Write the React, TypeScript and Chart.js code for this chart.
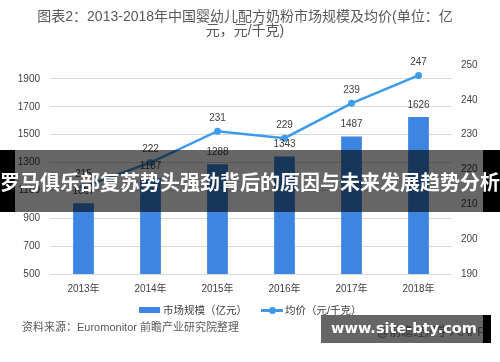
import React, { useEffect, useRef } from "react";
import { Chart, registerables } from "chart.js";

Chart.register(...registerables);

const years = ["2013年", "2014年", "2015年", "2016年", "2017年", "2018年"];
const marketSize = [1007, 1187, 1288, 1343, 1487, 1626];
const avgPrice = [215, 222, 231, 229, 239, 247];
const leftTicks = [500, 700, 900, 1100, 1300, 1500, 1700, 1900];
const rightTicks = [190, 200, 210, 220, 230, 240, 250];
const sizeLabel = "市场规模（亿元）";
const priceLabel = "均价（元/千克）";
const titleLine1 = "图表2：2013-2018年中国婴幼儿配方奶粉市场规模及均价(单位：亿";
const titleLine2 = "元，元/千克)";
const sourceText = "资料来源：Euromonitor 前瞻产业研究院整理";
const bannerText = "罗马俱乐部复苏势头强劲背后的原因与未来发展趋势分析";
const siteText = "www.site-bty.com";
const appText = "@前瞻经济学人APP";

const BAR_COLOR = "#3e85e2";
const LINE_COLOR = "#3c9bea";
const FONT = "'Liberation Sans', 'Noto Sans CJK SC', sans-serif";

const valueLabels = {
  id: "valueLabels",
  afterDatasetsDraw(chart: any) {
    const ctx = chart.ctx;
    ctx.save();
    ctx.font = `10px ${FONT}`;
    ctx.fillStyle = "#404040";
    ctx.textAlign = "center";
    ctx.textBaseline = "middle";
    chart.data.datasets.forEach((ds: any, i: number) => {
      const meta = chart.getDatasetMeta(i);
      const off = meta.type === "bar" ? 12 : 13;
      meta.data.forEach((el: any, j: number) => {
        ctx.fillText(String(ds.data[j]), el.x, el.y - off);
      });
    });
    ctx.restore();
  },
};

export default function App() {
  const ref = useRef<HTMLCanvasElement | null>(null);

  useEffect(() => {
    if (!ref.current) return;
    const tickFont = { size: 10, family: FONT };
    const plain = (v: any) => String(v);
    const chart = new Chart(ref.current, {
      type: "bar",
      data: {
        labels: years,
        datasets: [
          {
            type: "line",
            label: priceLabel,
            data: avgPrice,
            yAxisID: "y1",
            borderColor: LINE_COLOR,
            backgroundColor: LINE_COLOR,
            borderWidth: 2.5,
            pointRadius: 3.5,
            pointBorderWidth: 0,
            pointBackgroundColor: LINE_COLOR,
            tension: 0,
            order: 0,
          } as any,
          {
            type: "bar",
            label: sizeLabel,
            data: marketSize,
            yAxisID: "y",
            backgroundColor: BAR_COLOR,
            borderWidth: 0,
            barPercentage: 0.31,
            categoryPercentage: 1,
            order: 1,
          } as any,
        ],
      },
      options: {
        responsive: false,
        animation: false,
        layout: { padding: { top: 65, left: 0, right: 0, bottom: 0 } },
        plugins: { legend: { display: false }, tooltip: { enabled: false }, title: { display: false } },
        scales: {
          x: {
            grid: { display: false, drawTicks: false },
            border: { display: false },
            ticks: { color: "#404040", font: tickFont, padding: 9 },
            afterFit(s: any) {
              s.height = 88;
            },
          },
          y: {
            position: "left",
            min: 500,
            max: 2000,
            grid: { color: "#d9d9d9", drawTicks: false, lineWidth: 1 },
            border: { display: false },
            ticks: { color: "#404040", font: tickFont, padding: 10, callback: plain },
            afterBuildTicks(s: any) {
              s.ticks = leftTicks.map((v) => ({ value: v }));
            },
            afterFit(s: any) {
              s.width = 50;
            },
          },
          y1: {
            position: "right",
            min: 190,
            max: 250,
            grid: { display: false, drawTicks: false },
            border: { display: false },
            ticks: { color: "#404040", font: tickFont, padding: 9, callback: plain },
            afterBuildTicks(s: any) {
              s.ticks = rightTicks.map((v) => ({ value: v }));
            },
            afterFit(s: any) {
              s.width = 48;
            },
          },
        } as any,
      },
      plugins: [valueLabels],
    });
    return () => chart.destroy();
  }, []);

  const abs = (o: any): React.CSSProperties => ({ position: "absolute", ...o });

  return (
    <div
      style={{
        position: "fixed",
        left: 0,
        top: 0,
        width: 500,
        height: 362,
        background: "#ffffff",
        overflow: "hidden",
        fontFamily: FONT,
      }}
    >
      <canvas ref={ref} width={500} height={362} style={abs({ left: 0, top: 0, width: 500, height: 362 })} />
      <div
        style={abs({
          left: 0,
          top: 9,
          width: 490,
          textAlign: "center",
          fontSize: 14,
          lineHeight: "14px",
          color: "#595959",
          whiteSpace: "nowrap",
        })}
      >
        {titleLine1}
        <br />
        {titleLine2}
      </div>
      {/* legend */}
      <div style={abs({ left: 139, top: 307, width: 21, height: 6, background: BAR_COLOR })} />
      <div style={abs({ left: 163, top: 303, fontSize: 10.5, lineHeight: "14px", color: "#404040", whiteSpace: "nowrap" })}>
        {sizeLabel}
      </div>
      <div style={abs({ left: 261, top: 309, width: 22, height: 2.5, background: LINE_COLOR })} />
      <div style={abs({ left: 269, top: 307, width: 7, height: 7, borderRadius: 4, background: LINE_COLOR })} />
      <div style={abs({ left: 285, top: 303, fontSize: 10.5, lineHeight: "14px", color: "#404040", whiteSpace: "nowrap" })}>
        {priceLabel}
      </div>
      {/* source */}
      <div style={abs({ left: 22, top: 320, fontSize: 11, lineHeight: "14px", color: "#595959", whiteSpace: "nowrap" })}>
        {sourceText}
      </div>
      <div style={abs({ left: 377, top: 325, fontSize: 12, lineHeight: "14px", color: "#7f7f7f", whiteSpace: "nowrap" })}>
        {appText}
      </div>
      {/* banner overlay */}
      <div style={abs({ left: 0, top: 150, width: 15, height: 62, background: "#000" })} />
      <div style={abs({ left: 15, top: 150, width: 468, height: 62, background: "rgba(0,0,0,0.6)" })} />
      <div style={abs({ left: 483, top: 150, width: 17, height: 62, background: "#000" })} />
      <div
        style={abs({
          left: -10,
          top: 150,
          width: 520,
          height: 62,
          display: "flex",
          alignItems: "center",
          justifyContent: "center",
          color: "#ffffff",
          fontWeight: 700,
          fontSize: 20,
          fontFamily: "'Noto Sans CJK SC', sans-serif",
          whiteSpace: "nowrap",
        })}
      >
        {bannerText}
      </div>
      {/* site overlay */}
      <div style={abs({ left: 321, top: 315, width: 162, height: 28, background: "rgba(0,0,0,0.6)" })} />
      <div style={abs({ left: 483, top: 315, width: 8, height: 28, background: "#000" })} />
      <div
        style={abs({
          left: 321,
          top: 315,
          width: 166,
          height: 26,
          display: "flex",
          alignItems: "center",
          justifyContent: "center",
          color: "#ffffff",
          fontWeight: 700,
          fontSize: 14.5,
          fontFamily: "'DejaVu Sans', sans-serif",
          whiteSpace: "nowrap",
        })}
      >
        {siteText}
      </div>
    </div>
  );
}
